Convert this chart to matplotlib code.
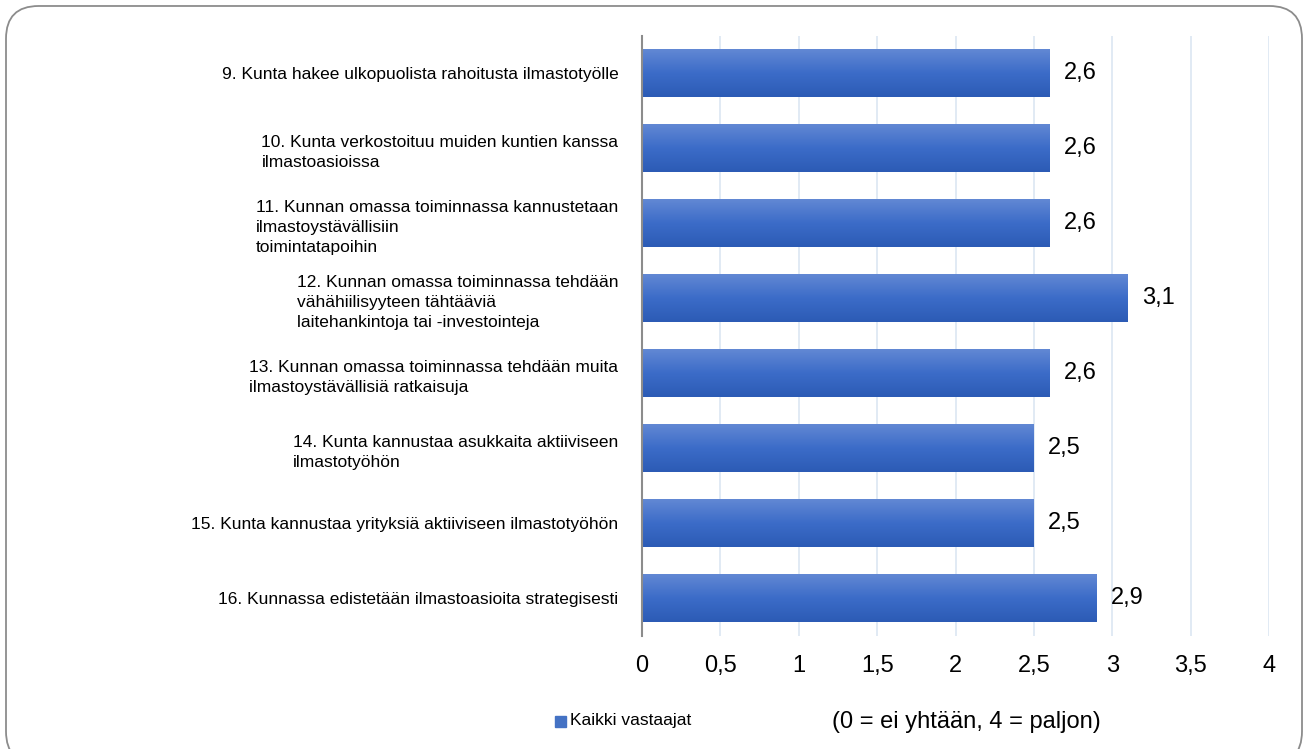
import matplotlib.pyplot as plt
import numpy as np
from matplotlib.patches import FancyBboxPatch
from matplotlib.colors import LinearSegmentedColormap
from matplotlib.ticker import FuncFormatter

plt.rcParams['font.family'] = ['Liberation Sans', 'DejaVu Sans']

# data (top to bottom)
labels = [
    "9. Kunta hakee ulkopuolista rahoitusta ilmastotyölle",
    "10. Kunta verkostoituu muiden kuntien kanssa\nilmastoasioissa",
    "11. Kunnan omassa toiminnassa kannustetaan\nilmastoystävällisiin\ntoimintatapoihin",
    "12. Kunnan omassa toiminnassa tehdään\nvähähiilisyyteen tähtääviä\nlaitehankintoja tai -investointeja",
    "13. Kunnan omassa toiminnassa tehdään muita\nilmastoystävällisiä ratkaisuja",
    "14. Kunta kannustaa asukkaita aktiiviseen\nilmastotyöhön",
    "15. Kunta kannustaa yrityksiä aktiiviseen ilmastotyöhön",
    "16. Kunnassa edistetään ilmastoasioita strategisesti",
]
values = [2.6, 2.6, 2.6, 3.1, 2.6, 2.5, 2.5, 2.9]
x_ticks = [0, 0.5, 1, 1.5, 2, 2.5, 3, 3.5, 4]
series_name = "Kaikki vastaajat"
scale_note = "(0 = ei yhtään, 4 = paljon)"

fig = plt.figure(figsize=(13.06, 7.49), dpi=100)
ax = fig.add_axes([0.4916, 0.151, 0.4801, 0.801])

y = np.arange(len(values))
bars = ax.barh(y, values, height=0.64, color="#4472c4", zorder=2)

# vertical gradient inside each bar
cmap = LinearSegmentedColormap.from_list("g", ["#6288d4", "#3c6cc8", "#2c5bb5"])
grad = np.linspace(0, 1, 256).reshape(-1, 1)
for b in bars:
    x0, y0 = b.get_x(), b.get_y()
    w, h = b.get_width(), b.get_height()
    im = ax.imshow(grad, cmap=cmap, aspect="auto", extent=(x0, x0 + w, y0 + h, y0),
                   origin="upper", zorder=3)
    im.set_clip_path(b)

for yi, v in zip(y, values):
    ax.text(v + 0.09, yi, f"{v:.1f}".replace(".", ","), va="center", ha="left",
            fontsize=17, zorder=4)

ax.set_ylim(len(values) - 0.5, -0.5)
ax.set_xlim(0, 4)
ax.set_xticks(x_ticks)
ax.xaxis.set_major_formatter(FuncFormatter(lambda v, p: f"{v:g}".replace(".", ",")))
ax.tick_params(axis="x", length=0, labelsize=17, pad=14)
ax.set_yticks(y)
ax.set_yticklabels(labels, fontsize=12.5, ha="right", multialignment="left", linespacing=1.4)
ax.tick_params(axis="y", length=0, pad=17)
ax.grid(axis="x", color="#dce6f2", linewidth=1.2, zorder=0)
ax.set_axisbelow(True)
for s in ["top", "right", "bottom"]:
    ax.spines[s].set_visible(False)
ax.spines["left"].set_color("#8c8c8c")
ax.spines["left"].set_linewidth(1.5)
ax.spines["left"].set_zorder(5)

# legend and note
fig.patches.append(plt.Rectangle((555 / 1306, 1 - 727 / 749), 11 / 1306, 11 / 749,
                                 transform=fig.transFigure, color="#4472c4"))
fig.text(570 / 1306, 1 - 721 / 749, series_name, fontsize=12.5, va="center", ha="left")
fig.text(832 / 1306, 1 - 722 / 749, scale_note, fontsize=17, va="center", ha="left")

# rounded frame
frame = FancyBboxPatch((6 / 1306, -0.02), 1296 / 1306, 1.012, transform=fig.transFigure,
                       boxstyle="round,pad=0,rounding_size=0.025", mutation_aspect=1306 / 749,
                       facecolor="none", edgecolor="#8c8c8c", linewidth=1.3)
fig.patches.append(frame)

fig.savefig("out.png", dpi=100)
